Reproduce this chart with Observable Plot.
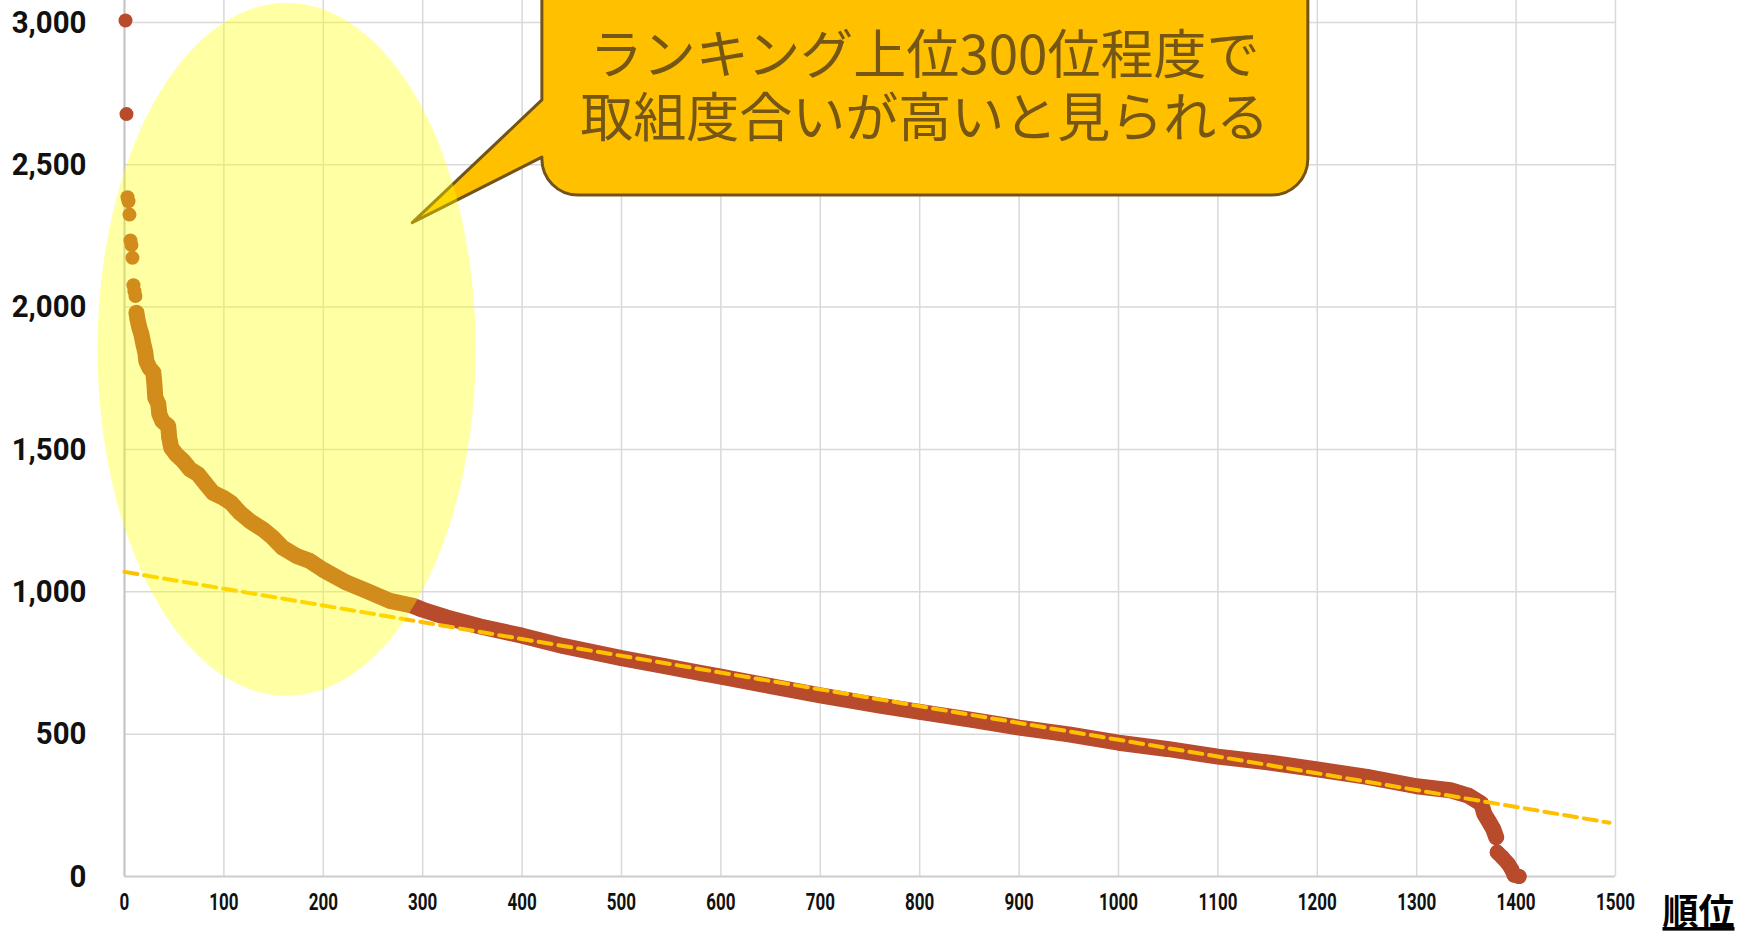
<!DOCTYPE html>
<html><head><meta charset="utf-8">
<script src="https://cdn.jsdelivr.net/npm/d3@7"></script>
<script src="https://cdn.jsdelivr.net/npm/@observablehq/plot@0.6"></script>
<style>
html,body{margin:0;padding:0;background:#fff;overflow:hidden;}
</style>
</head><body><div id="chart"></div>
<script>
// ---- data ----
const topRanks  = [1, 2, 3, 4, 5, 6, 7, 8, 9, 10, 11];
const topScores = [3007, 2678, 2386, 2372, 2325, 2234, 2218, 2173, 2077, 2056, 2039];

const curveRanks  = [12, 13, 15, 17, 19, 21, 22, 25, 29, 30, 31, 34, 35, 38, 44, 45, 47, 52, 59, 66, 74, 82, 89, 99, 107, 116, 126, 139, 149, 159, 173, 186, 200, 223, 243, 267, 290, 300, 324, 358, 400, 441, 500, 542, 579, 600, 650, 700, 760, 800, 851, 900, 950, 1000, 1049, 1100, 1150, 1200, 1250, 1300, 1334, 1352, 1365, 1368, 1373, 1377, 1380];
const curveScores = [1980, 1958, 1927, 1905, 1870, 1840, 1810, 1787, 1770, 1734, 1682, 1660, 1625, 1600, 1582, 1541, 1506, 1483, 1460, 1430, 1413, 1378, 1348, 1331, 1313, 1278, 1249, 1220, 1191, 1155, 1126, 1109, 1077, 1033, 1004, 968, 951, 937, 910, 878, 846, 810, 767, 740, 715, 702, 669, 636, 600, 578, 551, 523, 499, 470, 448, 421, 401, 376, 350, 317, 303, 284, 256, 220, 191, 167, 138];

const tailRanks  = [1381, 1386, 1392, 1396, 1398, 1403];
const tailScores = [85, 68, 45, 22, 5, 0];

const trendRanks  = [0, 1494];
const trendScores = [1070, 189];

const xTicks = [0, 100, 200, 300, 400, 500, 600, 700, 800, 900, 1000, 1100, 1200, 1300, 1400, 1500];
const yTicks = [0, 500, 1000, 1500, 2000, 2500, 3000];

const calloutLines = ["ランキング上位300位程度で", "取組度合いが高いと見られる"];
const calloutRank = 805;
const calloutScore = 2780;
const axisTitle = "順位";

// annotation anchors (data units)
const highlight = {rank: 163.6, score: 1850, rRank: 190.2, rScore: 1217};
const callout = {left: 420.4, right: 1191, bottom: 2392, top: 3217, baseTop: 2726, baseBottom: 2525, tipRank: 290, tipScore: 2295};

// ---- tables ----
const zip = (xs, ys) => xs.map((x, i) => ({rank: x, score: ys[i]}));
const topData = zip(topRanks, topScores);
const curveData = zip(curveRanks, curveScores);
const tailData = zip(tailRanks, tailScores);
const trendData = zip(trendRanks, trendScores);
const calloutData = [{text: calloutLines.join("\n"), rank: calloutRank, score: calloutScore}];

const RED = "#b84b2c";
const NUMFONT = "Roboto, 'DejaVu Sans', sans-serif";
const JPFONT = "'Noto Sans CJK JP', 'Noto Sans', sans-serif";

// horizontally condense tick label text (narrow font look)
function condense(k) {
  return (i, s, v, d, c, next) => {
    const g = next(i, s, v, d, c);
    g.querySelectorAll("text").forEach(t => {
      const tr = t.getAttribute("transform");
      if (tr) {
        t.setAttribute("transform", tr + ` scale(${k},1)`);
      } else {
        const x = +(t.getAttribute("x") || 0), y = +(t.getAttribute("y") || 0);
        t.removeAttribute("x"); t.removeAttribute("y");
        t.setAttribute("transform", `translate(${x},${y}) scale(${k},1)`);
      }
    });
    return g;
  };
}

function calloutMark(index, scales) {
  const x = scales.x, y = scales.y;
  const xl = x(callout.left), xr = x(callout.right);
  const yb = y(callout.bottom), yt = y(callout.top);
  const yp1 = y(callout.baseTop), yp2 = y(callout.baseBottom);
  const tx = x(callout.tipRank), ty = y(callout.tipScore);
  const r = 36;
  const d = `M${xl},${yt} L${xl},${yp1} L${tx},${ty} L${xl},${yp2} L${xl},${yb - r} A${r},${r} 0 0 0 ${xl + r},${yb} L${xr - r},${yb} A${r},${r} 0 0 0 ${xr},${yb - r} L${xr},${yt} Z`;
  const g = d3.create("svg:g");
  g.append("path").attr("d", d).attr("fill", "#ffc000").attr("stroke", "#735418").attr("stroke-width", 3).attr("stroke-linejoin", "round");
  return g.node();
}

function ellipseMark(index, scales) {
  const x = scales.x, y = scales.y;
  const cx = x(highlight.rank), cy = y(highlight.score);
  const rx = x(highlight.rank + highlight.rRank) - cx;
  const ry = y(highlight.score - highlight.rScore) - cy;
  const g = d3.create("svg:g");
  g.append("ellipse").attr("cx", cx).attr("cy", cy).attr("rx", rx).attr("ry", ry)
    .attr("fill", "#ffff00").attr("fill-opacity", 0.36);
  return g.node();
}

const chart = Plot.plot({
  width: 1754,
  height: 936,
  marginLeft: 124,
  marginRight: 139,
  marginTop: 0,
  marginBottom: 60,
  style: {fontFamily: NUMFONT, background: "#fff", color: "#000", overflow: "hidden"},
  x: {domain: [0, 1500]},
  y: {domain: [0, 3077]},
  marks: [
    Plot.gridX(xTicks, {stroke: "#d9d9d9", strokeOpacity: 1, strokeWidth: 1.5}),
    Plot.gridY(yTicks, {stroke: "#d9d9d9", strokeOpacity: 1, strokeWidth: 1.5}),
    Plot.ruleX([0], {stroke: "#c4c4c4", strokeWidth: 2}),
    Plot.ruleY([0], {stroke: "#cfcfcf", strokeWidth: 2}),
    Plot.axisY(yTicks, {tickSize: 0, tickPadding: 38, tickFormat: d3.format(","), fontSize: 32, fontWeight: "bold", fill: "#111", label: null, render: condense(0.92)}),
    Plot.axisX(xTicks, {tickSize: 0, tickPadding: 17, tickFormat: d => String(d), fontSize: 23, fontWeight: "bold", fill: "#111", label: null, render: condense(0.74)}),
    Plot.line(curveData, {x: "rank", y: "score", stroke: RED, strokeWidth: 16, strokeLinejoin: "round", strokeLinecap: "round"}),
    Plot.line(tailData, {x: "rank", y: "score", stroke: RED, strokeWidth: 15, strokeLinejoin: "round", strokeLinecap: "round"}),
    Plot.dot(curveData, {x: "rank", y: "score", r: 7.5, fill: RED}),
    Plot.dot(tailData, {x: "rank", y: "score", r: 7.5, fill: RED}),
    Plot.dot(topData, {x: "rank", y: "score", r: 7, fill: RED}),
    Plot.line(trendData, {x: "rank", y: "score", stroke: "#ffc000", strokeWidth: 4, strokeDasharray: "13,7"}),
    calloutMark,
    Plot.text(calloutData, {x: "rank", y: "score", text: "text", fontSize: 53, lineHeight: 1.2, fontFamily: JPFONT, fontWeight: 400, fill: "#755614", lineAnchor: "middle", textAnchor: "middle"}),
    ellipseMark,
    Plot.text([axisTitle], {text: d => d, frameAnchor: "bottom-right", dx: 83, dy: 37, lineAnchor: "middle", textAnchor: "middle", fontSize: 36, fontWeight: "bold", fontFamily: JPFONT, fill: "#000",
      render: (i, s, v, d, c, next) => { const g = next(i, s, v, d, c); g.setAttribute("text-decoration", "underline"); return g; }})
  ]
});
document.getElementById("chart").appendChild(chart);
</script>
</body></html>
